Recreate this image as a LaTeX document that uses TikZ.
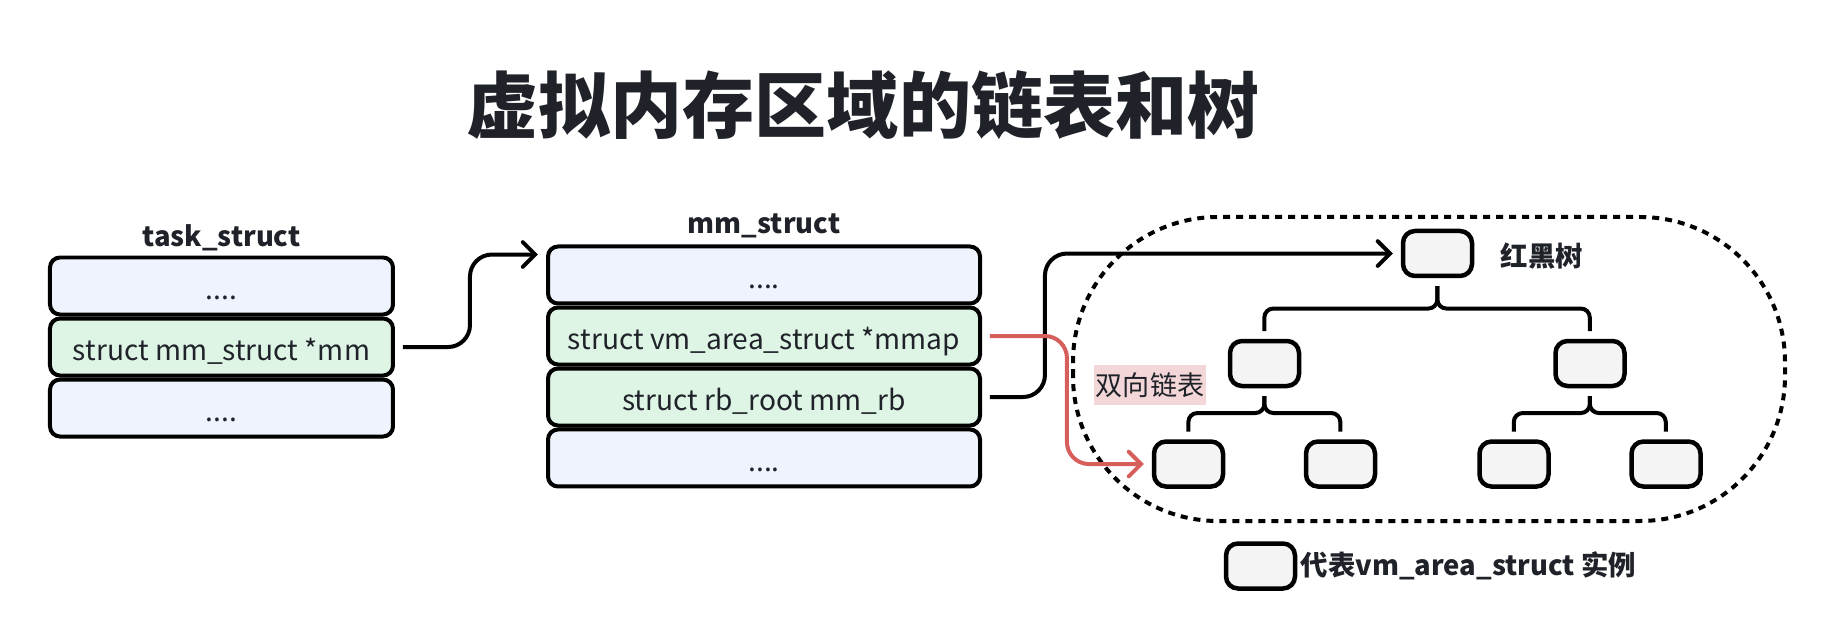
\documentclass[tikz,border=0pt]{standalone}
\usepackage{fontspec}
\usepackage{tkz-graph}
\usetikzlibrary{arrows}
\usetikzlibrary{calc}
\setmainfont{Noto Sans CJK SC}
\definecolor{inkColor}{HTML}{1F2329}
\definecolor{blankFill}{HTML}{EEF3FD}
\definecolor{pointerFill}{HTML}{DEF5E5}
\definecolor{vmaFill}{HTML}{F4F4F4}
\definecolor{listRed}{HTML}{D65F5C}
\definecolor{listPink}{HTML}{F3D7D8}

\begin{document}
\begin{tikzpicture}[scale = 10, font=\fontsize{8}{10}\selectfont, text = inkColor]
	\tikzstyle{VertexStyle} = []
	\tikzstyle{EdgeStyle} = []
	\tikzstyle{fieldStyle}=[shape = rectangle, rounded corners = 0.1cm, minimum height = 0.57cm, inner sep = 0pt, text height = 8pt, text depth = 0.3pt, line width = 0.04cm, draw]
	\tikzstyle{taskBlankStyle}=[fieldStyle, fill = blankFill, minimum width = 3.43cm]
	\tikzstyle{taskPointerStyle}=[fieldStyle, fill = pointerFill, minimum width = 3.43cm]
	\tikzstyle{mmBlankStyle}=[fieldStyle, fill = blankFill, minimum width = 4.32cm]
	\tikzstyle{mmPointerStyle}=[fieldStyle, fill = pointerFill, minimum width = 4.32cm]
	\tikzstyle{vmaStyle}=[shape = rectangle, rounded corners = 0.12cm, minimum width = 0.69cm, minimum height = 0.45cm, line width = 0.045cm, fill = vmaFill, draw]
	\tikzstyle{titleStyle}=[font = \fontsize{20.5}{24}\selectfont\bfseries, inner sep = 0pt, anchor = base]
	\tikzstyle{headStyle}=[font = \fontsize{7.8}{10}\selectfont\bfseries, inner sep = 0pt, anchor = base]
	\tikzstyle{noteStyle}=[font = \fontsize{7.8}{10}\selectfont\bfseries, inner sep = 0pt, anchor = base west]
	\tikzstyle{listLabelStyle}=[fill = listPink, font = \fontsize{7.7}{9}\selectfont, inner xsep = 0.02cm, inner ysep = 0pt, minimum height = 0.39cm]
	\tikzstyle{linkStyle}=[line width = 0.04cm, rounded corners = 0.09cm, shorten <= 0.1cm, shorten >= 0.1cm]
	\tikzstyle{pointerArrow}=[line width = 0.04cm, rounded corners = 0.22cm, shorten <= 0.1cm, shorten >= 0.1cm, -angle 90]
	\tikzstyle{listArrow}=[pointerArrow, draw = listRed]
	\tikzstyle{groupStyle}=[line width = 0.04cm, rounded corners = 1.45cm, dash pattern = on 0.07cm off 0.06cm]
	\useasboundingbox (0, 0) rectangle (1.838, 0.64);
	\node[titleStyle] (title) at (0.863, 0.508) {虚拟内存区域的链表和树};
	% task_struct
	\node[headStyle] (th) at (0.2215, 0.393) {task\_struct};
	\Vertex[style = taskBlankStyle, x = 0.2215, y = 0.354, L = {....}]{t0}
	\Vertex[style = taskPointerStyle, x = 0.2215, y = 0.293, L = {struct mm\_struct *mm}]{t1}
	\Vertex[style = taskBlankStyle, x = 0.2215, y = 0.232, L = {....}]{t2}
	% mm_struct
	\node[headStyle] (mh) at (0.764, 0.406) {mm\_struct};
	\Vertex[style = mmBlankStyle, x = 0.764, y = 0.365, L = {....}]{m0}
	\Vertex[style = mmPointerStyle, x = 0.764, y = 0.304, L = {struct vm\_area\_struct *mmap}]{m1}
	\Vertex[style = mmPointerStyle, x = 0.764, y = 0.243, L = {struct rb\_root mm\_rb}]{m2}
	\Vertex[style = mmBlankStyle, x = 0.764, y = 0.182, L = {....}]{m3}
	% red-black tree
	\draw[groupStyle] (1.073, 0.119) rectangle (1.785, 0.423);
	\Vertex[style = vmaStyle, x = 1.4375, y = 0.3865, NoLabel]{r0}
	\Vertex[style = vmaStyle, x = 1.2645, y = 0.2765, NoLabel]{r1}
	\Vertex[style = vmaStyle, x = 1.590, y = 0.2765, NoLabel]{r2}
	\Vertex[style = vmaStyle, x = 1.1885, y = 0.176, NoLabel]{r3}
	\Vertex[style = vmaStyle, x = 1.3405, y = 0.176, NoLabel]{r4}
	\Vertex[style = vmaStyle, x = 1.514, y = 0.176, NoLabel]{r5}
	\Vertex[style = vmaStyle, x = 1.666, y = 0.176, NoLabel]{r6}
	\node[noteStyle] (rh) at (1.500, 0.374) {红黑树};
	\node[listLabelStyle] (lh) at (1.150, 0.255) {双向链表};
	\draw[linkStyle] (r0) -- ++(0, -0.055) -| (r1);
	\draw[linkStyle] (r0) -- ++(0, -0.055) -| (r2);
	\draw[linkStyle] (r1) -- ++(0, -0.0495) -| (r3);
	\draw[linkStyle] (r1) -- ++(0, -0.0495) -| (r4);
	\draw[linkStyle] (r2) -- ++(0, -0.0495) -| (r5);
	\draw[linkStyle] (r2) -- ++(0, -0.0495) -| (r6);
	% pointers
	\draw[pointerArrow] (t1) -- ++(0.2485, 0) |- ($(m0.north west) + (0, -0.008)$);
	\draw[pointerArrow] (m2) -- ++(0.281, 0) |- (r0);
	\draw[listArrow] (m1) -- ++(0.303, 0) |- (r3);
	% legend
	\Vertex[style = vmaStyle, x = 1.2605, y = 0.074, NoLabel]{l0}
	\node[noteStyle] (lt) at (1.300, 0.065) {代表vm\_area\_struct 实例};
\end{tikzpicture}
\end{document}
